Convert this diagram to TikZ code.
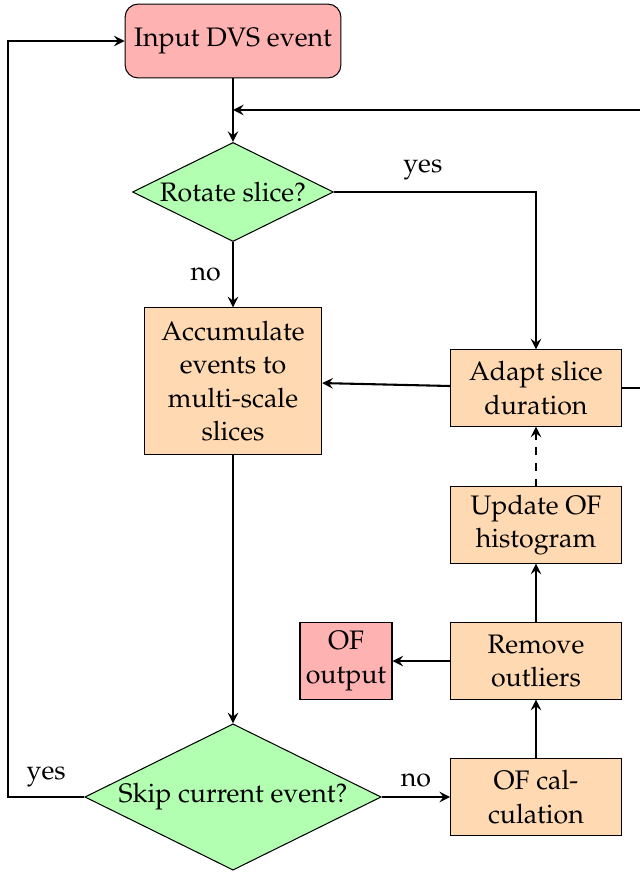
\documentclass[tikz,border=0pt]{standalone}
\usepackage[T1]{fontenc}
\usepackage{mathpazo}
\usetikzlibrary{shapes.geometric}

\tikzset{
	every node/.style={font=\fontsize{10.3}{12.9}\selectfont},
	bloc/.style={rectangle,draw,fill=orange!30,align=center,inner sep=2pt,minimum width=2.31cm,minimum height=1.03cm},
	debut/.style={rectangle,rounded corners=5pt,draw,fill=red!30,align=center,minimum width=2.92cm,minimum height=1.00cm},
	sortie/.style={rectangle,draw,fill=red!30,align=center,inner sep=2pt,minimum width=1.245cm,minimum height=1.03cm},
	test/.style={diamond,aspect=2,draw,fill=green!30,align=center,inner sep=0pt},
	fleche/.style={->,>=stealth,thick},
}

\begin{document}
\begin{tikzpicture}
	\useasboundingbox (0,0) rectangle (8.660,-11.800);
	%\node (nom node) at(x,y) [style] {affichage} ;
	\node (node 1) at(3.153,-0.555) [debut] {Input DVS event} ;
	\node (node 2) at(3.153,-2.598) [test,minimum width=2.72cm,minimum height=1.34cm] {Rotate slice?} ;
	\node (node 3) at(3.153,-5.156) [bloc,minimum width=2.40cm,minimum height=1.98cm] {Accumulate\\events to\\multi-scale\\slices} ;
	\node (node 4) at(3.153,-10.785) [test,minimum width=4.01cm,minimum height=1.98cm] {Skip current event?} ;
	\node (node 5) at(7.253,-5.250) [bloc] {Adapt slice\\duration} ;
	\node (node 6) at(7.253,-7.104) [bloc] {Update OF\\histogram} ;
	\node (node 7) at(7.253,-8.945) [bloc] {Remove\\outliers} ;
	\node (node 8) at(7.253,-10.785) [bloc] {OF cal-\\culation} ;
	\node (node 9) at(4.682,-8.945) [sortie] {OF\\output} ;

	%points de passage des boucles
	\coordinate (retour) at(8.75,-1.488) ;
	\coordinate (jonction) at(3.153,-1.488) ;
	\coordinate (gauche) at(0.108,-10.785) ;

	\draw[fleche] (node 1) -- (node 2) ;
	\draw[fleche] (node 2.east) -| node[pos=0.22,above=1pt] {yes} (node 5.north) ;
	\draw[fleche] (node 2) -- node[left=1pt] {no} (node 3) ;
	\draw[fleche] (node 5) -- (node 3) ;
	\draw[fleche] (node 5.east) -- (retour |- node 5.east) -- (retour) -- (jonction) ;
	\draw[fleche] (node 3) -- (node 4) ;
	\draw[fleche] (node 4.west) -- node[above] {yes} (gauche) |- (node 1.west) ;
	\draw[fleche] (node 4) -- node[above] {no} (node 8) ;
	\draw[fleche] (node 8) -- (node 7) ;
	\draw[fleche] (node 7) -- (node 6) ;
	\draw[fleche] (node 7) -- (node 9) ;
	\draw[fleche,dashed] (node 6) -- (node 5) ;
\end{tikzpicture}
\end{document}
